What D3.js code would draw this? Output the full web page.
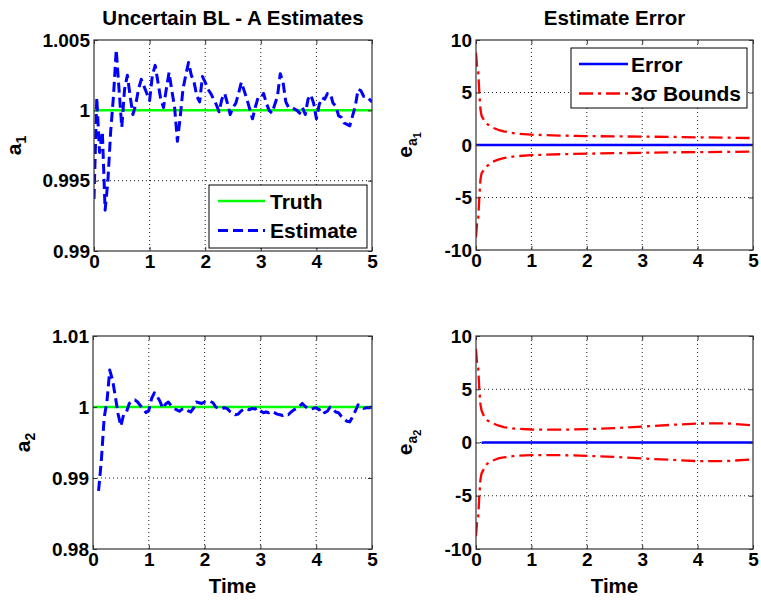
<!DOCTYPE html>
<html>
<head>
<meta charset="utf-8">
<script src="https://cdn.jsdelivr.net/npm/d3@7"></script>
<style>
  body { margin: 0; background: #fff; }
  text { font-family: "Liberation Sans", Arial, sans-serif; font-weight: bold; }
</style>
</head>
<body>
<svg id="fig" width="761" height="601"></svg>
<script>

// sample times for the a1 estimate (0 .. 5, every 0.05)
var timeA1 = [
  0,0.05,0.1,0.15,0.2,0.25,0.3,0.35,0.4,0.45,
  0.5,0.55,0.6,0.65,0.7,0.75,0.8,0.85,0.9,0.95,
  1,1.05,1.1,1.15,1.2,1.25,1.3,1.35,1.4,1.45,
  1.5,1.55,1.6,1.65,1.7,1.75,1.8,1.85,1.9,1.95,
  2,2.05,2.1,2.15,2.2,2.25,2.3,2.35,2.4,2.45,
  2.5,2.55,2.6,2.65,2.7,2.75,2.8,2.85,2.9,2.95,
  3,3.05,3.1,3.15,3.2,3.25,3.3,3.35,3.4,3.45,
  3.5,3.55,3.6,3.65,3.7,3.75,3.8,3.85,3.9,3.95,
  4,4.05,4.1,4.15,4.2,4.25,4.3,4.35,4.4,4.45,
  4.5,4.55,4.6,4.65,4.7,4.75,4.8,4.85,4.9,4.95,
  5];

var estimateA1 = [
  0.9937,1.0009,0.9970,0.9985,0.9929,0.9950,0.9985,1.0010,1.0043,1.0015,
  0.9988,1.0015,1.0025,1.0010,0.9997,1.0004,1.0015,1.0022,1.0017,1.0012,
  1.0007,1.0025,1.0032,1.0020,1.0008,1.0002,1.0015,1.0027,1.0014,1.0002,
  0.9978,0.9995,1.0015,1.0025,1.0034,1.0025,1.0020,1.0010,1.0006,1.0024,
  1.0020,1.0015,1.0012,1.0008,1.0004,0.9999,1.0008,1.0012,1.0005,0.9997,
  1.0002,1.0005,1.0012,1.0020,1.0014,1.0008,1.0001,0.9994,1.0002,1.0009,
  1.0009,1.0012,1.0005,1.0000,0.9998,1.0004,1.0010,1.0026,1.0020,1.0006,
  1.0002,1.0002,1.0001,1.0000,0.9998,1.0002,0.9997,1.0008,1.0011,1.0005,
  0.9994,1.0004,1.0009,1.0008,1.0012,1.0012,1.0005,1.0003,0.9996,0.9995,
  0.9991,0.9990,0.9989,0.9996,1.0003,1.0015,1.0014,1.0010,1.0010,1.0008,
  1.0006];

// sample times for the a2 estimate (starts at 0.1)
var timeA2 = [
  0.1,0.15,0.2,0.25,0.3,0.35,0.4,0.45,
  0.5,0.55,0.6,0.65,0.7,0.75,0.8,0.85,0.9,0.95,
  1,1.05,1.1,1.15,1.2,1.25,1.3,1.35,1.4,1.45,
  1.5,1.55,1.6,1.65,1.7,1.75,1.8,1.85,1.9,1.95,
  2,2.05,2.1,2.15,2.2,2.25,2.3,2.35,2.4,2.45,
  2.5,2.55,2.6,2.65,2.7,2.75,2.8,2.85,2.9,2.95,
  3,3.05,3.1,3.15,3.2,3.25,3.3,3.35,3.4,3.45,
  3.5,3.55,3.6,3.65,3.7,3.75,3.8,3.85,3.9,3.95,
  4,4.05,4.1,4.15,4.2,4.25,4.3,4.35,4.4,4.45,
  4.5,4.55,4.6,4.65,4.7,4.75,4.8,4.85,4.9,4.95,
  5];

var estimateA2 = [
  0.9882,0.9925,0.9985,1.0008,1.0052,1.0038,1.0015,0.9990,
  0.9973,0.9990,0.9993,1.0005,1.0008,1.0010,1.0007,1.0002,0.9997,0.9992,
  0.9995,1.0012,1.0020,1.0015,1.0008,0.9998,1.0004,1.0007,1.0002,0.9998,
  0.9996,0.9994,0.9997,0.9998,0.9995,0.9993,0.9998,1.0007,1.0006,1.0005,
  1.0007,1.0007,1.0008,1.0006,1.0000,0.9998,0.9997,0.9999,0.9998,0.9994,
  0.9992,0.9989,0.9990,0.9994,0.9997,0.9998,0.9996,0.9998,0.9997,0.9999,
  0.9995,0.9992,0.9993,0.9992,0.9994,0.9992,0.9990,0.9989,0.9988,0.9990,
  0.9989,0.9993,0.9996,0.9998,1.0001,1.0005,1.0001,0.9998,0.9997,0.9998,
  0.9999,0.9996,0.9998,0.9992,0.9994,1.0000,0.9997,0.9993,0.9992,0.9987,
  0.9983,0.9980,0.9979,0.9986,0.9994,1.0003,1.0001,0.9998,0.9999,0.9999,
  1.0000];

var truthA1 = 1;
var truthA2 = 1;

// 3-sigma bounds
var boundTime  = [0,0.02,0.04,0.06,0.08,0.1,0.15,0.2,0.3,0.4,0.5,0.7,1,1.5,2,2.5,3,3.5,4,4.5,5];
var upperA1 = [8.8,7.4,7.0,5.0,3.4,2.8,2.3,2.0,1.65,1.45,1.3,1.1,0.98,0.9,0.85,0.82,0.8,0.77,0.73,0.7,0.66];
var lowerA1 = [-8.8,-7.4,-7.0,-5.0,-3.3,-2.7,-2.3,-2.0,-1.6,-1.4,-1.25,-1.08,-0.96,-0.88,-0.82,-0.78,-0.74,-0.7,-0.68,-0.66,-0.62];
var upperA2 = [8.8,7.4,7.0,5.0,3.6,3.0,2.4,2.1,1.8,1.6,1.45,1.3,1.22,1.2,1.25,1.35,1.5,1.65,1.78,1.8,1.62];
var lowerA2 = [-8.8,-7.4,-7.0,-5.0,-3.5,-2.9,-2.4,-2.0,-1.7,-1.5,-1.4,-1.25,-1.18,-1.18,-1.25,-1.35,-1.5,-1.62,-1.75,-1.75,-1.58];

// tick labels
var xTicks = [0,1,2,3,4,5];
var yTicksA1 = [0.99,0.995,1,1.005];
var yLabelsA1 = ["0.99","0.995","1","1.005"];
var yTicksA2 = [0.98,0.99,1,1.01];
var yLabelsA2 = ["0.98","0.99","1","1.01"];
var yTicksErr = [-10,-5,0,5,10];
var yLabelsErr = ["-10","-5","0","5","10"];

var svg = d3.select("#fig");
var BLUE = "#0000ff", GREEN = "#00ff00", RED = "#ff0000";
var clipId = 0;

function drawPanel(p) {
  var x = d3.scaleLinear().domain([0, 5]).range([p.x0, p.x1]);
  var y = d3.scaleLinear().domain([p.yTicks[0], p.yTicks[p.yTicks.length - 1]]).range([p.y1, p.y0]);
  var g = svg.append("g");

  // dotted grid
  g.selectAll(".gx").data(xTicks.slice(1, -1)).enter().append("line")
    .attr("x1", function(d){ return x(d); }).attr("x2", function(d){ return x(d); })
    .attr("y1", p.y0).attr("y2", p.y1)
    .attr("stroke", "#222").attr("stroke-width", 1).attr("stroke-dasharray", "1,3");
  g.selectAll(".gy").data(p.yTicks.slice(1, -1)).enter().append("line")
    .attr("x1", p.x0).attr("x2", p.x1)
    .attr("y1", function(d){ return y(d); }).attr("y2", function(d){ return y(d); })
    .attr("stroke", "#222").attr("stroke-width", 1).attr("stroke-dasharray", "1,3");

  clipId++;
  svg.append("clipPath").attr("id", "clip" + clipId)
    .append("rect").attr("x", p.x0).attr("y", p.y0)
    .attr("width", p.x1 - p.x0).attr("height", p.y1 - p.y0);

  var line = d3.line().x(function(d){ return x(d[0]); }).y(function(d){ return y(d[1]); });
  var plot = g.append("g").attr("clip-path", "url(#clip" + clipId + ")");
  p.series.forEach(function(s) {
    plot.append("path")
      .datum(d3.zip(s.t, s.v))
      .attr("d", line)
      .attr("fill", "none")
      .attr("stroke", s.color)
      .attr("stroke-width", s.width)
      .attr("stroke-dasharray", s.dash || null)
      .attr("stroke-linejoin", "round");
  });

  // frame
  g.append("rect").attr("x", p.x0).attr("y", p.y0)
    .attr("width", p.x1 - p.x0).attr("height", p.y1 - p.y0)
    .attr("fill", "none").attr("stroke", "#333").attr("stroke-width", 1.2);

  var fmtY = function(d){ return p.yLabels[p.yTicks.indexOf(d)]; };
  var axes = [
    g.append("g").attr("transform", "translate(0," + p.y1 + ")")
      .call(d3.axisBottom(x).tickValues(xTicks).tickSize(-4).tickPadding(4).tickFormat(d3.format("d"))),
    g.append("g").attr("transform", "translate(" + p.x0 + ",0)")
      .call(d3.axisLeft(y).tickValues(p.yTicks).tickSize(-4).tickPadding(4).tickFormat(fmtY)),
    g.append("g").attr("transform", "translate(0," + p.y0 + ")")
      .call(d3.axisTop(x).tickValues(xTicks).tickSize(-4).tickFormat("")),
    g.append("g").attr("transform", "translate(" + p.x1 + ",0)")
      .call(d3.axisRight(y).tickValues(p.yTicks).tickSize(-4).tickFormat(""))
  ];
  axes.forEach(function(a) {
    a.select(".domain").remove();
    a.selectAll("line").attr("stroke", "#333");
    a.attr("font-family", null).attr("font-size", 19)
      .selectAll("text").attr("fill", "#000");
  });

  if (p.title) {
    g.append("text").attr("x", (p.x0 + p.x1) / 2).attr("y", 25)
      .attr("text-anchor", "middle").attr("font-size", 20.5).text(p.title);
  }
  if (p.xLabel) {
    g.append("text").attr("x", (p.x0 + p.x1) / 2).attr("y", 593)
      .attr("text-anchor", "middle").attr("font-size", 20.5).text(p.xLabel);
  }

  // y label with subscripts
  var cy = (p.y0 + p.y1) / 2;
  var yl = g.append("text")
    .attr("transform", "translate(" + p.yLabelX + "," + cy + ") rotate(-90)")
    .attr("text-anchor", "middle").attr("font-size", 21);
  yl.append("tspan").text(p.yLabel[0]);
  yl.append("tspan").attr("font-size", 14).attr("dy", 5).text(p.yLabel[1]);
  if (p.yLabel.length > 2) {
    yl.append("tspan").attr("font-size", 11).attr("dy", 4).text(p.yLabel[2]);
  }

  if (p.legend) drawLegend(g, p.legend);
}

function drawLegend(g, L) {
  g.append("rect").attr("x", L.x).attr("y", L.y).attr("width", L.w).attr("height", L.h)
    .attr("fill", "#fff").attr("stroke", "#000").attr("stroke-width", 1);
  L.items.forEach(function(it, i) {
    var ry = L.y + 16 + i * 29.5;
    g.append("line").attr("x1", L.x + L.lx0).attr("x2", L.x + L.lx1)
      .attr("y1", ry).attr("y2", ry)
      .attr("stroke", it.color).attr("stroke-width", it.width)
      .attr("stroke-dasharray", it.dash || null);
    g.append("text").attr("x", L.x + L.tx).attr("y", ry).attr("dy", "0.36em")
      .attr("font-size", 21).text(it.label);
  });
}

var errA1 = estimateA1.map(function(v){ return v - truthA1; });
var errA2 = estimateA2.map(function(v){ return v - truthA2; });

var estStyle = { color: BLUE, width: 3, dash: "10,5" };
var truthStyle = { color: GREEN, width: 2.5 };
var boundStyle = { color: RED, width: 2.3, dash: "14,5,3,5" };
var errStyle = { color: BLUE, width: 2.5 };

function styled(st, t, v) { return Object.assign({ t: t, v: v }, st); }

drawPanel({
  x0: 94, x1: 372, y0: 40, y1: 251,
  yTicks: yTicksA1, yLabels: yLabelsA1,
  title: "Uncertain BL - A Estimates",
  yLabel: ["a", "1"], yLabelX: 21,
  series: [
    styled(truthStyle, [0, 5], [truthA1, truthA1]),
    styled(estStyle, timeA1, estimateA1)
  ],
  legend: { x: 209, y: 185, w: 158, h: 63, lx0: 9, lx1: 56, tx: 61,
    items: [
      Object.assign({ label: "Truth" }, truthStyle),
      Object.assign({ label: "Estimate" }, estStyle)
    ] }
});

drawPanel({
  x0: 476, x1: 753, y0: 40, y1: 250,
  yTicks: yTicksErr, yLabels: yLabelsErr,
  title: "Estimate Error",
  yLabel: ["e", "a", "1"], yLabelX: 412,
  series: [
    styled(errStyle, timeA1, errA1),
    styled(boundStyle, boundTime, upperA1),
    styled(boundStyle, boundTime, lowerA1)
  ],
  legend: { x: 571, y: 48, w: 176, h: 60, lx0: 8, lx1: 57, tx: 60,
    items: [
      Object.assign({ label: "Error" }, errStyle),
      Object.assign({ label: "3\u03c3 Bounds" }, boundStyle)
    ] }
});

drawPanel({
  x0: 93, x1: 372, y0: 336, y1: 549,
  yTicks: yTicksA2, yLabels: yLabelsA2,
  xLabel: "Time",
  yLabel: ["a", "2"], yLabelX: 30,
  series: [
    styled(truthStyle, [0, 5], [truthA2, truthA2]),
    styled(estStyle, timeA2, estimateA2)
  ]
});

drawPanel({
  x0: 476, x1: 753, y0: 336, y1: 549,
  yTicks: yTicksErr, yLabels: yLabelsErr,
  xLabel: "Time",
  yLabel: ["e", "a", "2"], yLabelX: 412,
  series: [
    styled(errStyle, timeA2, errA2),
    styled(boundStyle, boundTime, upperA2),
    styled(boundStyle, boundTime, lowerA2)
  ]
});

</script>
</body>
</html>
